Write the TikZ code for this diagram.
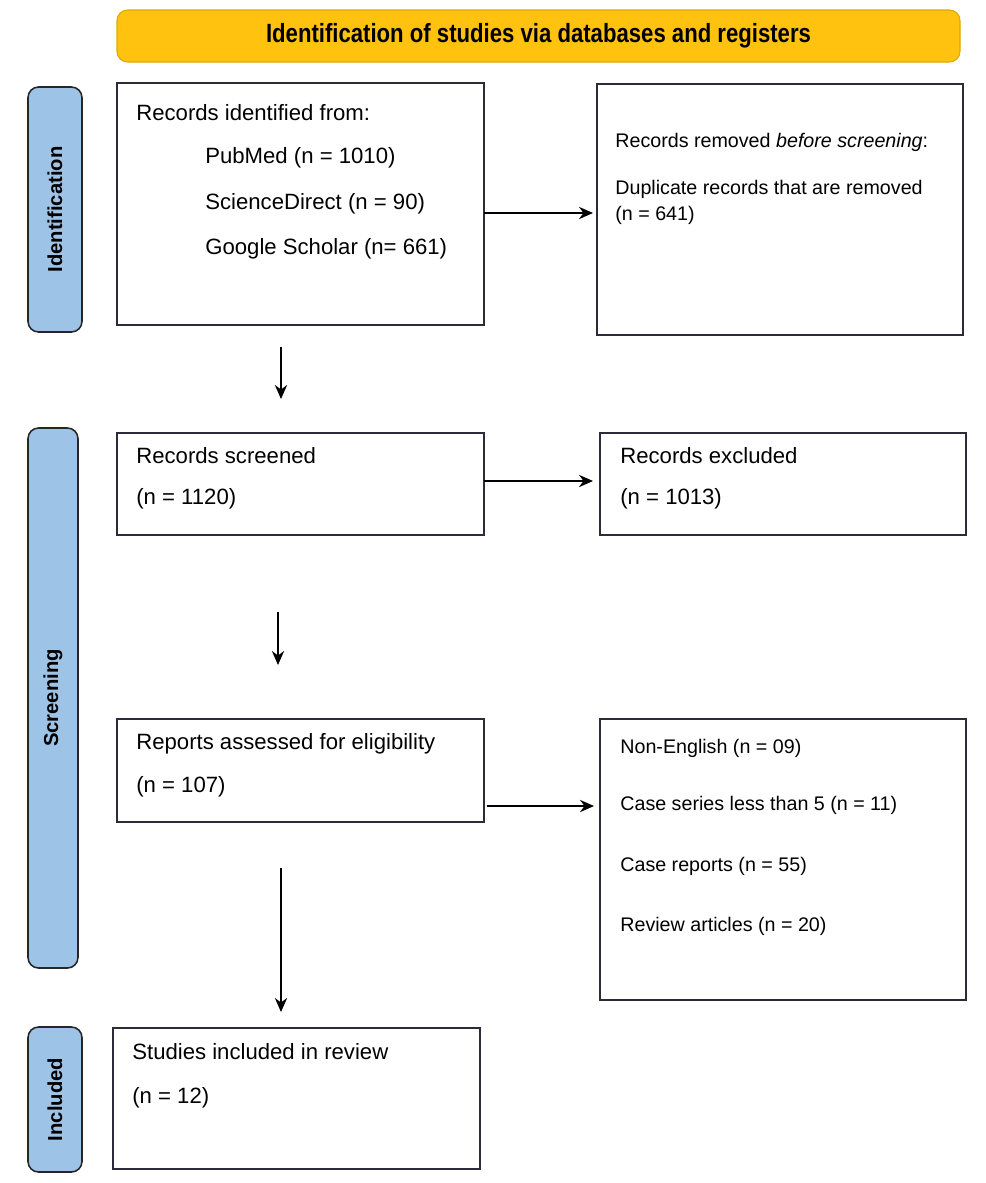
\documentclass[tikz,border=0pt]{standalone}
\usepackage{fontspec}
\setmainfont{Liberation Sans}
\usetikzlibrary{arrows.meta}
\definecolor{hdr}{HTML}{FFC20E}
\definecolor{hdrb}{HTML}{E0A800}
\definecolor{side}{HTML}{9DC3E6}
\definecolor{boxb}{HTML}{2B2B3A}
\begin{document}
\begin{tikzpicture}[x=0.02cm,y=-0.02cm,
  box/.style={draw=boxb,line width=0.9pt,fill=white},
  sidebar/.style={draw=black!85,line width=0.9pt,fill=side,rounded corners=6pt},
  txt/.style={anchor=west,inner sep=0pt,font=\fontsize{12.6}{14}\selectfont},
  rtxt/.style={anchor=west,inner sep=0pt,font=\fontsize{11.2}{13}\selectfont},
  side/.style={rotate=90,font=\bfseries\fontsize{11.5}{13}\selectfont},
  arr/.style={-{Stealth[length=8pt,width=7pt]},line width=0.8pt}]
\useasboundingbox (0,0) rectangle (986,1183);
% header
\node[draw=hdrb,fill=hdr,rounded corners=6pt,minimum width=843*0.02cm,minimum height=52*0.02cm,line width=0.6pt] (hdr) at (538.5,36)
  {\scalebox{0.84}[1]{\bfseries\fontsize{15}{17}\selectfont Identification of studies via databases and registers}};
% side bars
\draw[sidebar] (28,87) rectangle (82,332);
\node[side] (sid) at (55,209.5) {Identification};
\draw[sidebar] (28,428) rectangle (78,968);
\node[side] (sscr) at (53,698) {Screening};
\draw[sidebar] (28,1027) rectangle (82,1172);
\node[side] (sinc) at (55,1099.5) {Included};
% boxes
\draw[box] (117,83) rectangle (484,325);
\coordinate (b1e) at (484,213);
\node[txt] (t1a) at (136,113) {Records identified from:};
\node[txt] (t1b) at (205,158) {PubMed (n = 1010)};
\node[txt] (t1c) at (205,204) {ScienceDirect (n = 90)};
\node[txt] (t1d) at (205,249) {Google Scholar (n= 661)};
\draw[box] (597,84) rectangle (963,335);
\coordinate (b2w) at (593,213);
\node[rtxt] (t2a) at (615,142) {Records removed \textit{before screening}:};
\node[rtxt] (t2b) at (615,189) {Duplicate records that are removed};
\node[rtxt] (t2c) at (615,215) {(n = 641)};
\draw[arr] (b1e) -- (b2w);
\coordinate (d1s) at (281,347);
\coordinate (d1e) at (281,399);
\draw[arr] (d1s) -- (d1e);
% screening
\draw[box] (117,433) rectangle (484,535);
\node[txt] (t3a) at (136,456) {Records screened};
\node[txt] (t3b) at (136,499) {(n = 1120)};
\draw[box] (600,433) rectangle (966,535);
\node[txt] (t4a) at (620,456) {Records excluded};
\node[txt] (t4b) at (620,499) {(n = 1013)};
\coordinate (b3e) at (484,481);
\coordinate (b4w) at (593,481);
\draw[arr] (b3e) -- (b4w);
\coordinate (d2s) at (278,612);
\coordinate (d2e) at (278,665);
\draw[arr] (d2s) -- (d2e);
% eligibility
\draw[box] (117,719) rectangle (484,822);
\node[txt] (t5a) at (136,744) {Reports assessed for eligibility};
\node[txt] (t5b) at (136,787) {(n = 107)};
\draw[box] (600,719) rectangle (966,1000);
\node[rtxt] (t6a) at (620,748) {Non-English (n = 09)};
\node[rtxt] (t6b) at (620,805) {Case series less than 5 (n = 11)};
\node[rtxt] (t6c) at (620,866) {Case reports (n = 55)};
\node[rtxt] (t6d) at (620,926) {Review articles (n = 20)};
\coordinate (b5e) at (487,806);
\coordinate (b6w) at (594,806);
\draw[arr] (b5e) -- (b6w);
\coordinate (d3s) at (281,868);
\coordinate (d3e) at (281,1012);
\draw[arr] (d3s) -- (d3e);
% included
\draw[box] (113,1028) rectangle (480,1169);
\node[txt] (t7a) at (132,1052) {Studies included in review};
\node[txt] (t7b) at (132,1098) {(n = 12)};
\end{tikzpicture}
\end{document}
